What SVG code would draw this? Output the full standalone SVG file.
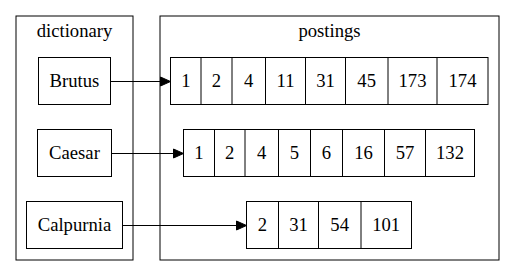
<svg xmlns="http://www.w3.org/2000/svg" width="515" height="276" viewBox="0 0 515 276">
<style>
.cl{fill:none;stroke:#000;stroke-width:1}
.bx{fill:#fff;stroke:#000;stroke-width:1}
.cell{fill:none;stroke:#000;stroke-width:1}
text{font-family:'Liberation Serif','DejaVu Serif',serif;font-size:18.67px;fill:#000;text-anchor:middle}
.edge{stroke:#000;stroke-width:1;fill:none}
.ah{fill:#000;stroke:#000;stroke-width:1}
</style>
<rect width="515" height="276" fill="#fff"/>
<g id="cluster_dictionary">
<rect class="cl" x="16" y="16" width="117" height="244"/>
<text x="74.5" y="37">dictionary</text>
</g>
<g id="cluster_postings">
<rect class="cl" x="160" y="16" width="339" height="244"/>
<text x="329.5" y="37">postings</text>
</g>
<g id="Brutus">
<rect class="bx" x="38.5" y="57.5" width="72" height="47"/>
<text x="74.5" y="87">Brutus</text>
</g>
<g id="Caesar">
<rect class="bx" x="37.5" y="129.5" width="74" height="47"/>
<text x="74.5" y="159">Caesar</text>
</g>
<g id="Calpurnia">
<rect class="bx" x="26.5" y="201.5" width="96" height="47"/>
<text x="74.5" y="231">Calpurnia</text>
</g>
<g id="BrutusList">
<rect class="cell" x="170.5" y="57.5" width="317.5" height="47"/>
<path class="cell" d="M201,57.5V104.5M232,57.5V104.5M265.5,57.5V104.5M305.5,57.5V104.5M345.5,57.5V104.5M388,57.5V104.5M437,57.5V104.5"/>
<text x="185.8" y="87">1</text>
<text x="216.5" y="87">2</text>
<text x="248.7" y="87">4</text>
<text x="285.5" y="87">11</text>
<text x="325.5" y="87">31</text>
<text x="366.7" y="87">45</text>
<text x="412.5" y="87">173</text>
<text x="462.5" y="87">174</text>
</g>
<g id="CaesarList">
<rect class="cell" x="183.5" y="129.5" width="291" height="47"/>
<path class="cell" d="M214.5,129.5V176.5M245,129.5V176.5M278.5,129.5V176.5M310.5,129.5V176.5M342.5,129.5V176.5M384.5,129.5V176.5M425.5,129.5V176.5"/>
<text x="199" y="159">1</text>
<text x="229.7" y="159">2</text>
<text x="261.7" y="159">4</text>
<text x="294.5" y="159">5</text>
<text x="326.5" y="159">6</text>
<text x="363.5" y="159">16</text>
<text x="405" y="159">57</text>
<text x="450" y="159">132</text>
</g>
<g id="CalpurniaList">
<rect class="cell" x="246.5" y="201.5" width="165" height="47"/>
<path class="cell" d="M278.5,201.5V248.5M318.5,201.5V248.5M361,201.5V248.5"/>
<text x="262.5" y="231">2</text>
<text x="298.5" y="231">31</text>
<text x="339.7" y="231">54</text>
<text x="386.2" y="231">101</text>
</g>
<g id="edges">
<path class="edge" d="M110.5,81.5H160.5"/>
<polygon class="ah" points="160.5,77 170.5,81.5 160.5,86"/>
<path class="edge" d="M111.5,153.5H173.5"/>
<polygon class="ah" points="173.5,149 183.5,153.5 173.5,158"/>
<path class="edge" d="M122.5,225.5H236.5"/>
<polygon class="ah" points="236.5,221 246.5,225.5 236.5,230"/>
</g>
</svg>
